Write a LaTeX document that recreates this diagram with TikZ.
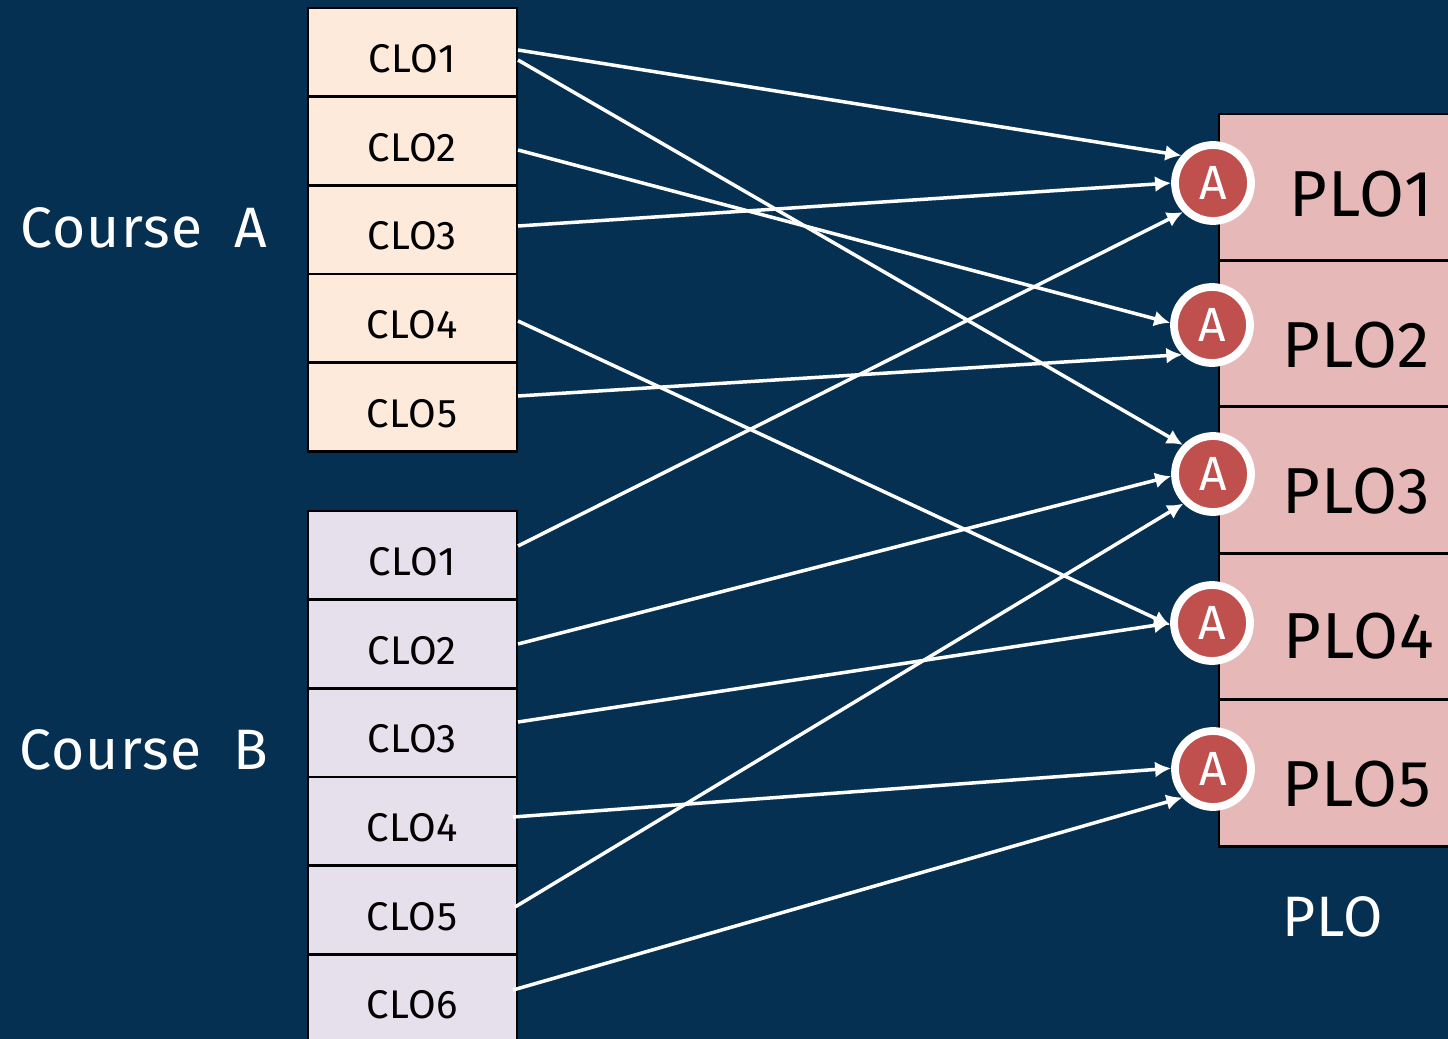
\documentclass[tikz,border=0pt]{standalone}
\usepackage{fontspec}
\setmainfont{Fira Sans}[LetterSpace=2]
\usetikzlibrary{arrows.meta,shadows}
\definecolor{bgblue}{HTML}{063051}
\definecolor{peach}{HTML}{FDEADA}
\definecolor{lav}{HTML}{E6E0EC}
\definecolor{pink}{HTML}{E6B9B8}
\definecolor{redc}{HTML}{C0504D}
\tikzset{
  x=0.5pt,y=-0.5pt,
  cell/.style={draw=black,line width=1.3pt,minimum width=104.5pt,minimum height=44.35pt,inner sep=0pt,outer sep=0pt},
  acell/.style={cell,fill=peach},
  bcell/.style={cell,fill=lav},
  pcell/.style={draw=black,line width=1.3pt,fill=pink,minimum width=130pt,minimum height=73.2pt,inner sep=0pt,outer sep=0pt},
  clotext/.style={font=\fontsize{20}{24}\selectfont,text=black,inner sep=0pt},
  plotext/.style={font=\fontsize{32.5}{38}\selectfont,text=black,inner sep=0pt},
  white text/.style={font=\fontsize{28.5}{34}\selectfont,text=white,inner sep=0pt},
  badge/.style={circle,draw=white,fill=redc,line width=3.9pt,minimum size=38pt,inner sep=0pt,
    text=white,font=\fontsize{24}{28}\selectfont,
    general shadow={shadow xshift=1.2pt,shadow yshift=-1.2pt,fill=black,opacity=.22}},
  link/.style={draw=white,line width=1.75pt,-{Latex[length=8pt,width=8pt]}},
}
\begin{document}
\begin{tikzpicture}
\useasboundingbox[fill=bgblue] (0,0) rectangle (1448,1039);
% Course A cells
\node[acell] (a1) at (412.5,52.4) {};
\node[acell] (a2) at (412.5,141) {};
\node[acell] (a3) at (412.5,229.7) {};
\node[acell] (a4) at (412.5,318.4) {};
\node[acell] (a5) at (412.5,407) {};
% Course B cells
\node[bcell] (b1) at (412.5,555.4) {};
\node[bcell] (b2) at (412.5,644) {};
\node[bcell] (b3) at (412.5,732.7) {};
\node[bcell] (b4) at (412.5,821.4) {};
\node[bcell] (b5) at (412.5,910) {};
\node[bcell] (b6) at (412.5,998.7) {};
% PLO cells
\node[pcell] (p1) at (1349,187) {};
\node[pcell] (p2) at (1349,333.4) {};
\node[pcell] (p3) at (1349,480) {};
\node[pcell] (p4) at (1349,626.4) {};
\node[pcell] (p5) at (1349,773) {};
% texts
\node[clotext] (ta1) at (412,59) {CLO1};
\node[clotext] (ta2) at (412,148) {CLO2};
\node[clotext] (ta3) at (412,236) {CLO3};
\node[clotext] (ta4) at (412,325) {CLO4};
\node[clotext] (ta5) at (412,414) {CLO5};
\node[clotext] (tb1) at (412,562) {CLO1};
\node[clotext] (tb2) at (412,651) {CLO2};
\node[clotext] (tb3) at (412,739) {CLO3};
\node[clotext] (tb4) at (412,828) {CLO4};
\node[clotext] (tb5) at (412,917) {CLO5};
\node[clotext] (tb6) at (412,1005) {CLO6};
\node[plotext] (tp1) at (1361,194) {PLO1};
\node[plotext] (tp2) at (1356,345) {PLO2};
\node[plotext] (tp3) at (1356,491) {PLO3};
\node[plotext] (tp4) at (1359,636) {PLO4};
\node[plotext] (tp5) at (1357,784) {PLO5};
\node[white text] (ca) at (144,228) {Course\ \ A};
\node[white text] (cb) at (144,750) {Course\ \ B};
\node[white text] (plo) at (1333,917) {PLO};
% badges
\node[badge] (c1) at (1213,183) {\raisebox{-1.5pt}{A}};
\node[badge] (c2) at (1212,325) {\raisebox{-1.5pt}{A}};
\node[badge] (c3) at (1213,474) {\raisebox{-1.5pt}{A}};
\node[badge] (c4) at (1212,623) {\raisebox{-1.5pt}{A}};
\node[badge] (c5) at (1213,769) {\raisebox{-1.5pt}{A}};
% connector starts
\coordinate (sa1u) at (518,50);
\coordinate (sa1d) at (518,60);
\coordinate (sa2) at (518,150);
\coordinate (sa3) at (518,226);
\coordinate (sa4) at (518,321);
\coordinate (sa5) at (518,396);
\coordinate (sb1) at (518,546);
\coordinate (sb2) at (518,644);
\coordinate (sb3) at (518,722);
\coordinate (sb4) at (513,817);
\coordinate (sb5) at (515,907);
\coordinate (sb6) at (513,990);
% connectors
\draw[link] (sa1u) -- (c1.139);
\draw[link] (sa1d) -- (c3.136);
\draw[link] (sa2) -- (c2.177);
\draw[link] (sa3) -- (c1.180);
\draw[link] (sa4) -- (c4.183);
\draw[link] (sa5) -- (c2.225);
\draw[link] (sb1) -- (c1.224);
\draw[link] (sb2) -- (c3.183);
\draw[link] (sb3) -- (c4.180);
\draw[link] (sb4) -- (c5.179);
\draw[link] (sb5) -- (c3.225);
\draw[link] (sb6) -- (c5.223);
\end{tikzpicture}
\end{document}
